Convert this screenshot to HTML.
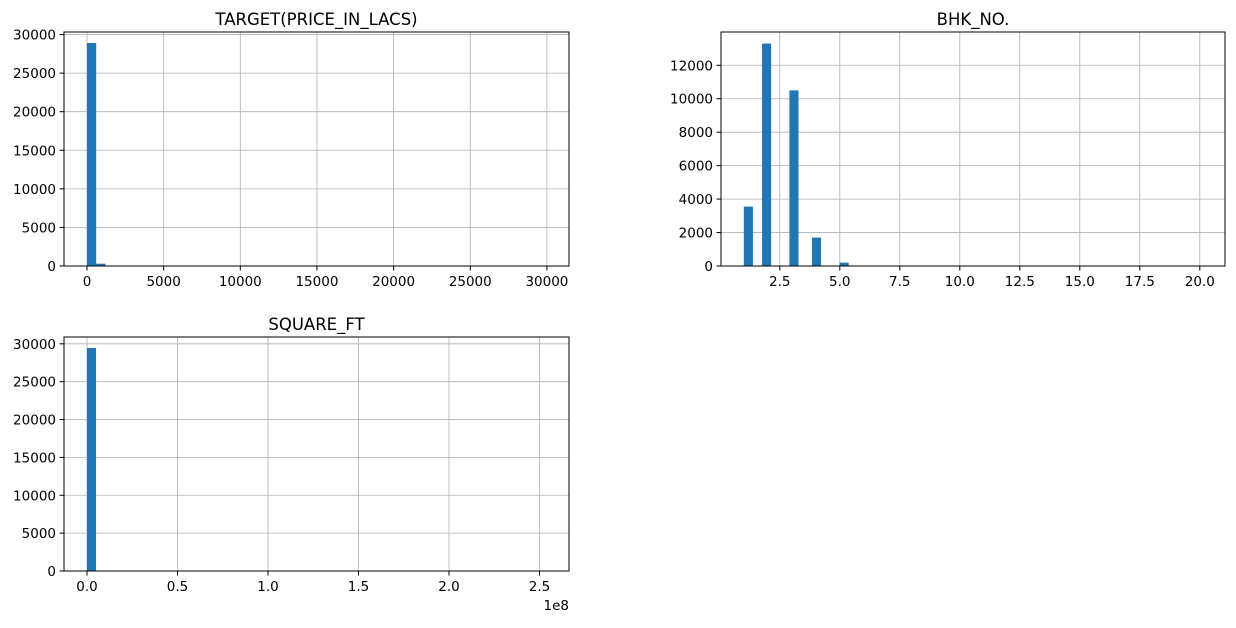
<!DOCTYPE html>
<html><head><meta charset="utf-8"><style>
body{margin:0;background:#fff;}
svg text{font-family:"DejaVu Sans","Liberation Sans",sans-serif;fill:#000;}
</style></head><body>
<svg id="c" width="1236" height="623" xmlns="http://www.w3.org/2000/svg"></svg>
<script>
// Panel 1: TARGET(PRICE_IN_LACS)
const priceBinStarts = [0, 600];
const priceCounts = [28900, 300];
const priceBinWidth = 600;
const priceXTicks = [0, 5000, 10000, 15000, 20000, 25000, 30000];
const priceYTicks = [0, 5000, 10000, 15000, 20000, 25000, 30000];
// Panel 2: BHK_NO.
const bhkBinStarts = [1, 1.76, 2.9, 3.84, 4.99];
const bhkCounts = [3550, 13300, 10500, 1700, 200];
const bhkBinWidth = 0.38;
const bhkXTicks = [2.5, 5.0, 7.5, 10.0, 12.5, 15.0, 17.5, 20.0];
const bhkYTicks = [0, 2000, 4000, 6000, 8000, 10000, 12000];
// Panel 3: SQUARE_FT
const sqftBinStarts = [0];
const sqftCounts = [29450];
const sqftBinWidth = 0.05;
const sqftXTicks = [0.0, 0.5, 1.0, 1.5, 2.0, 2.5];
const sqftYTicks = [0, 5000, 10000, 15000, 20000, 25000, 30000];

const NS="http://www.w3.org/2000/svg";
const svg=document.getElementById('c');
function mk(tag,attrs,parent){const e=document.createElementNS(NS,tag);for(const k in attrs)e.setAttribute(k,attrs[k]);(parent||svg).appendChild(e);return e;}

function panel(p){
  const g=mk('g',{});
  
  
  const sx=v=>p.L+(v-p.xmin)/(p.xmax-p.xmin)*(p.R-p.L);
  const sy=v=>p.B-(v-0)/(p.ymax)*(p.B-p.T);
  p.xt.forEach(t=>{const x=sx(t);
    const l=mk('line',{x1:x,x2:x,y1:p.T,y2:p.B,stroke:'#b0b0b0','stroke-width':0.8},g);
    
    
    mk('line',{x1:x,x2:x,y1:p.B,y2:p.B+4.5,stroke:'#000','stroke-width':1},g);
    const tx=mk('text',{x:x,y:p.B+20,'text-anchor':'middle','font-size':'13.5px'},g);
    tx.textContent=p.fmtX(t);
    
    
  });
  p.yt.forEach(t=>{const y=sy(t);
    const l=mk('line',{x1:p.L,x2:p.R,y1:y,y2:y,stroke:'#b0b0b0','stroke-width':0.8},g);
    
    
    mk('line',{x1:p.L-4.5,x2:p.L,y1:y,y2:y,stroke:'#000','stroke-width':1},g);
    const tx=mk('text',{x:p.L-8,y:y+5,'text-anchor':'end','font-size':'13.5px'},g);
    tx.textContent=String(t);
    
    
  });
  p.bins.forEach((b,i)=>{
    const x0=sx(b),x1=sx(b+p.bw),y=sy(p.counts[i]);
    const r=mk('rect',{x:x0,y:y,width:x1-x0,height:p.B-y,fill:'#1f77b4'},g);
    
    
  });
  const fr=mk('rect',{x:p.L,y:p.T,width:p.R-p.L,height:p.B-p.T,fill:'none',stroke:'#000','stroke-width':1},g);
  
  
  const tt=mk('text',{x:(p.L+p.R)/2,y:p.T-7,'text-anchor':'middle','font-size':'16.5px'},g);
  tt.textContent=p.title;
  
  
  if(p.offset){const o=mk('text',{x:p.R,y:p.B+39,'text-anchor':'end','font-size':'13.5px'},g);
    o.textContent=p.offset;
    
    }
}
panel({name:'price-histogram',title:'TARGET(PRICE_IN_LACS)',L:64,R:569,T:32,B:266,xmin:-1500,xmax:31440,ymax:30330,
  bins:priceBinStarts,counts:priceCounts,bw:priceBinWidth,xt:priceXTicks,yt:priceYTicks,fmtX:v=>String(v)});
panel({name:'bhk-histogram',title:'BHK_NO.',L:721,R:1225,T:32,B:266,xmin:0.05,xmax:21.05,ymax:13990,
  bins:bhkBinStarts,counts:bhkCounts,bw:bhkBinWidth,xt:bhkXTicks,yt:bhkYTicks,fmtX:v=>v.toFixed(1)});
panel({name:'sqft-histogram',title:'SQUARE_FT',L:64,R:569,T:337,B:571,xmin:-0.127,xmax:2.663,ymax:30900,
  bins:sqftBinStarts,counts:sqftCounts,bw:sqftBinWidth,xt:sqftXTicks,yt:sqftYTicks,fmtX:v=>v.toFixed(1),offset:'1e8'});
</script>
</body></html>
